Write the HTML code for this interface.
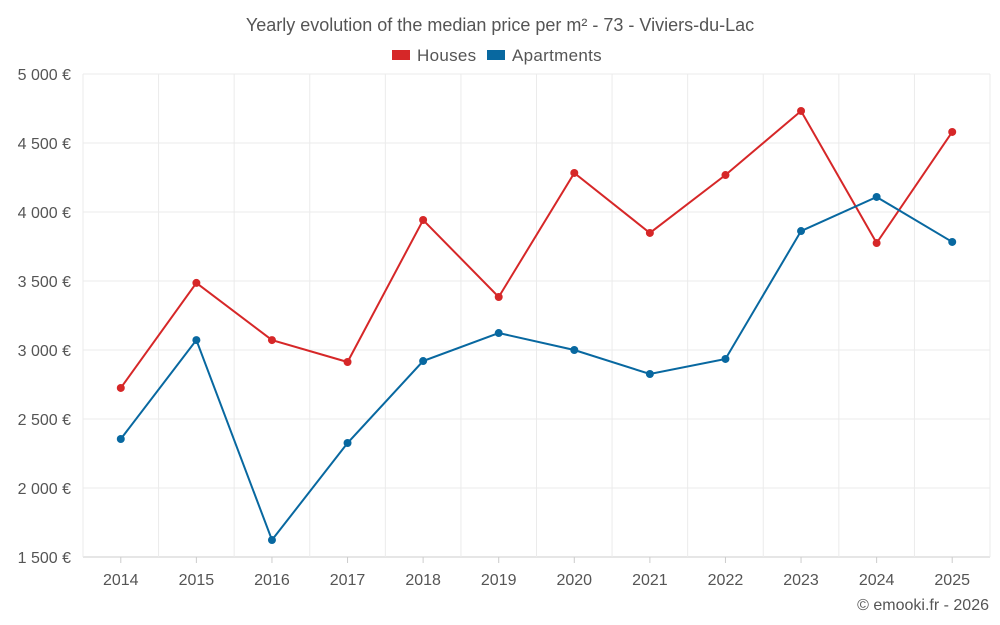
<!DOCTYPE html>
<html><head><meta charset="utf-8"><style>
html,body{margin:0;padding:0;background:#fff;}
svg{display:block;font-family:"Liberation Sans",sans-serif;}
</style></head><body>
<svg id="chart" width="1000" height="625">
<text x="500" y="31" text-anchor="middle" font-size="18" fill="#555">Yearly evolution of the median price per m² - 73 - Viviers-du-Lac</text>
<g>
<g><rect x="392" y="50" width="18" height="10" fill="#d62728"/><text x="417" y="61" font-size="17" fill="#555" letter-spacing="0.3">Houses</text></g>
<g><rect x="487" y="50" width="18" height="10" fill="#0868a0"/><text x="512" y="61" font-size="17" fill="#555" letter-spacing="0.3">Apartments</text></g>
</g>
<g id="grid"></g><g id="axes"></g><g id="series"></g>
<text x="989" y="610" text-anchor="end" font-size="16" fill="#555">© emooki.fr - 2026</text>
</svg>
<script>
const years=[2014,2015,2016,2017,2018,2019,2020,2021,2022,2023,2024,2025];
const houses=[2725,3486,3072,2913,3942,3384,4283,3848,4268,4732,3775,4580];
const apartments=[2355,3072,1623,2326,2920,3123,3000,2826,2935,3862,4109,3783];
const yTicks=[1500,2000,2500,3000,3500,4000,4500,5000];
const yTickLabels=["1 500 €","2 000 €","2 500 €","3 000 €","3 500 €","4 000 €","4 500 €","5 000 €"];
const L=83,R=990,T=74,B=557,yMin=1500,yMax=5000;
const step=(R-L)/years.length;
const x=i=>L+step*(i+0.5);
const y=v=>B-(v-yMin)/(yMax-yMin)*(B-T);
const NS="http://www.w3.org/2000/svg";
function mk(tag,attrs,parent){const e=document.createElementNS(NS,tag);for(const k in attrs)e.setAttribute(k,attrs[k]);parent.appendChild(e);return e;}
const grid=document.getElementById('grid'),axes=document.getElementById('axes'),ser=document.getElementById('series');
yTicks.forEach((v,i)=>{
 const l=mk('line',{x1:L,x2:R,y1:y(v),y2:y(v),stroke:i==0?'#ccc':'#ebebeb'},grid);
 
 
 const t=mk('text',{x:71,y:y(v)+6,'text-anchor':'end','font-size':16,fill:'#555'},axes);
 t.textContent=yTickLabels[i];
 
 
});
years.forEach((yr,i)=>{
 const l=mk('line',{x1:L+step*i,x2:L+step*i,y1:T,y2:B,stroke:'#ebebeb'},grid);
 
 
 const tk=mk('line',{x1:x(i),x2:x(i),y1:B,y2:B+6,stroke:'#ccc'},axes);
 
 
 const t=mk('text',{x:x(i),y:585,'text-anchor':'middle','font-size':16,fill:'#555'},axes);
 t.textContent=yr;
 
 
});
const rl=mk('line',{x1:R,x2:R,y1:T,y2:B,stroke:'#ebebeb'},grid);


function draw(vals,color,name){
 const p=mk('polyline',{points:vals.map((v,i)=>x(i)+','+y(v)).join(' '),fill:'none',stroke:color,'stroke-width':2},ser);
 
 
 vals.forEach((v,i)=>{
  const c=mk('circle',{cx:x(i),cy:y(v),r:4,fill:color},ser);
  
  
 });
}
draw(houses,'#d62728','houses');
draw(apartments,'#0868a0','apartments');
</script>
</body></html>
